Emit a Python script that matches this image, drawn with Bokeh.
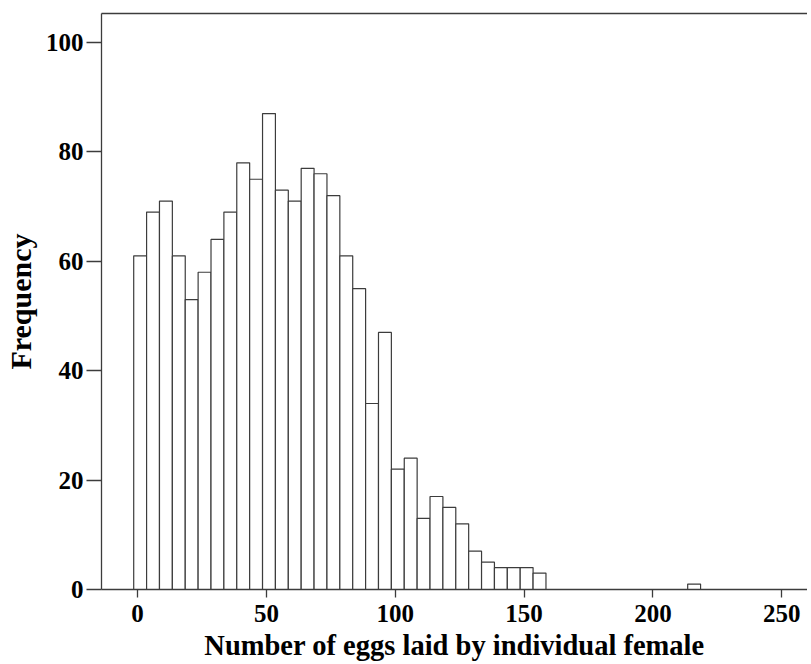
from bokeh.plotting import figure
from bokeh.models import ColumnDataSource, LinearAxis, FixedTicker, Range1d
from bokeh.embed import file_html
from bokeh.resources import INLINE

# Histogram data (bins of width 5 starting at -1.5)
bin_start = -1.5
bin_width = 5
counts = [61, 69, 71, 61, 53, 58, 64, 69, 78, 75, 87, 73, 71, 77, 76, 72,
          61, 55, 34, 47, 22, 24, 13, 17, 15, 12, 7, 5, 4, 4, 4, 3,
          0, 0, 0, 0, 0, 0, 0, 0, 0, 0, 0, 1]
x_ticks = [0, 50, 100, 150, 200, 250]
y_ticks = [0, 20, 40, 60, 80, 100]

lefts, rights, tops = [], [], []
for i, c in enumerate(counts):
    if c > 0:
        lefts.append(bin_start + i * bin_width)
        rights.append(bin_start + (i + 1) * bin_width)
        tops.append(c)
src = ColumnDataSource(dict(left=lefts, right=rights, top=tops, bottom=[0] * len(tops)))

FONT = "Liberation Serif"
LINE = "#3c3c3c"

p = figure(frame_width=706, frame_height=576, output_backend="svg", toolbar_location=None,
           x_range=Range1d(-14, 260), y_range=Range1d(0, 105.3),
           min_border_left=100, min_border_top=13, min_border_right=0, min_border_bottom=10)
p.outline_line_color = None
p.grid.visible = False
p.background_fill_color = "white"

p.quad(left="left", right="right", top="top", bottom="bottom", source=src,
       fill_color="white", line_color=LINE, line_width=1.2)

xa = p.xaxis[0]
xa.ticker = FixedTicker(ticks=x_ticks)
xa.axis_label = "Number of eggs laid by individual female"
xa.major_tick_out = 8
xa.major_tick_in = 0
xa.minor_tick_out = 0
xa.minor_tick_in = 0
xa.major_label_standoff = 7
xa.axis_label_standoff = 5

ya = p.yaxis[0]
ya.ticker = FixedTicker(ticks=y_ticks)
ya.axis_label = "Frequency"
ya.major_tick_out = 15
ya.major_tick_in = 0
ya.minor_tick_out = 0
ya.minor_tick_in = 0
ya.major_label_standoff = 3
ya.axis_label_standoff = 6

for ax in (xa, ya):
    ax.axis_line_color = LINE
    ax.axis_line_width = 1.3
    ax.major_tick_line_color = LINE
    ax.major_tick_line_width = 1.3
    ax.major_label_text_font = FONT
    ax.major_label_text_font_style = "bold"
    ax.major_label_text_font_size = "25px"
    ax.major_label_text_color = "black"
    ax.axis_label_text_font = FONT
    ax.axis_label_text_font_style = "bold"
    ax.axis_label_text_color = "black"
xa.axis_label_text_font_size = "28.5px"
ya.axis_label_text_font_size = "30px"

top_axis = LinearAxis(ticker=FixedTicker(ticks=[]), axis_line_color=LINE, axis_line_width=1.3,
                      major_tick_out=0, major_tick_in=0, minor_tick_out=0, minor_tick_in=0,
                      major_label_text_font_size="0px")
p.add_layout(top_axis, "above")

open("out.html", "w").write(file_html(p, INLINE))
